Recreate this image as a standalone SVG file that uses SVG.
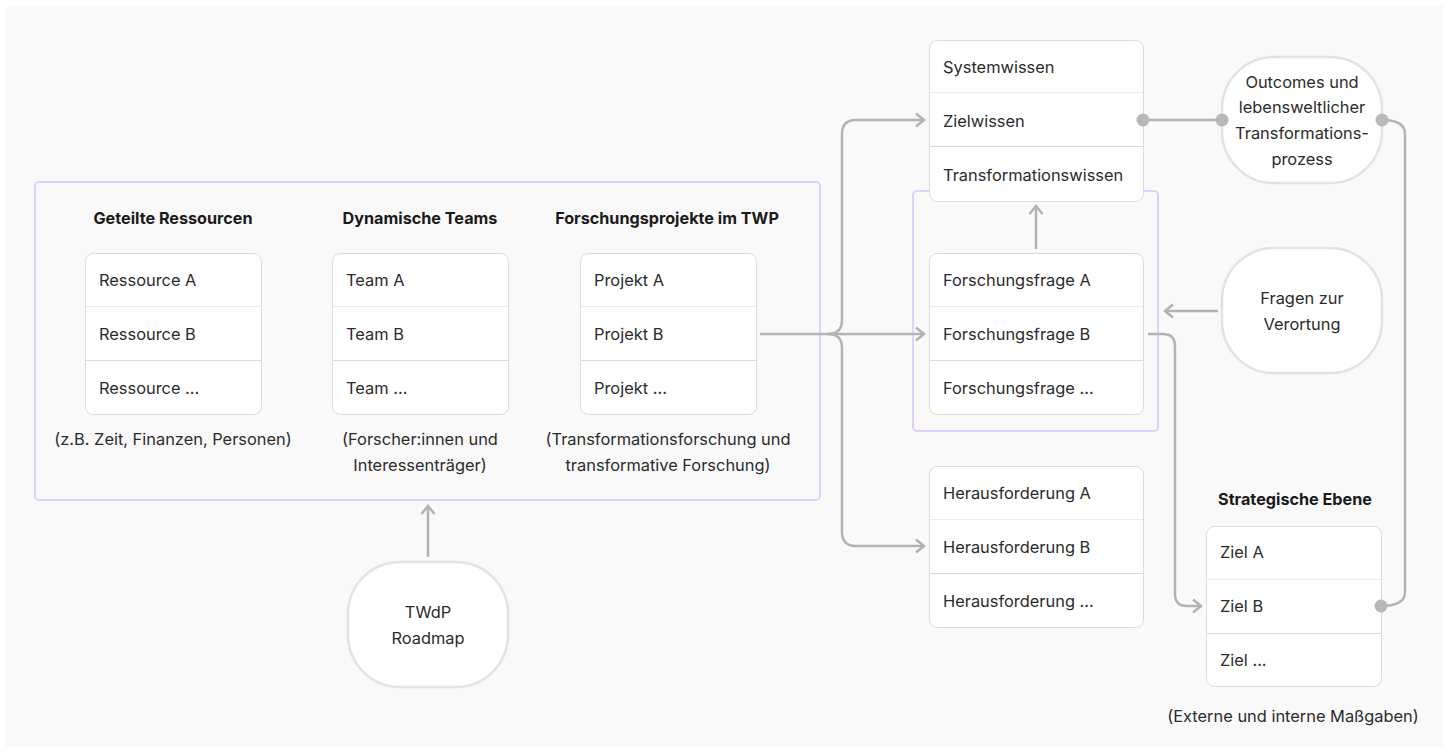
<svg xmlns="http://www.w3.org/2000/svg" width="1449" height="753" viewBox="0 0 1449 753">
<defs>
<style>
.t{font-family:Inter,"Noto Sans","Liberation Sans",sans-serif;font-size:16.4px;fill:#2b2b2b}
.h{font-family:Inter,"Noto Sans","Liberation Sans",sans-serif;font-size:16.2px;font-weight:700;fill:#1a1a1a}
.c{text-anchor:middle}
.box{fill:#fff;stroke:#dcdcdc;stroke-width:1}
.rowb{fill:#fff;stroke:#dcdcdc;stroke-width:1}
.sep{stroke:#ececec;stroke-width:1}
.grp{fill:none;stroke:#e0d0fb;stroke-width:2}
.pill{fill:#fff;stroke:#e3e3e3;stroke-width:2.5}
.con{fill:none;stroke:#b3b3b3;stroke-width:2.5}
.dot{fill:#b8b8b8}
</style>
<marker id="arr" viewBox="0 0 12 16" refX="10" refY="8" markerWidth="12" markerHeight="16" orient="auto" markerUnits="userSpaceOnUse">
<path d="M2,1.5 L10,8 L2,14.5" fill="none" stroke="#b3b3b3" stroke-width="2.5"/>
</marker>
</defs>
<rect x="0" y="0" width="1449" height="753" fill="#fff"/>
<rect x="6" y="6" width="1437" height="741" fill="#f9f9f9"/>

<g id="group-main">
<rect class="grp" x="35" y="182" width="785" height="318" rx="4"/>
</g>
<g id="group-fragen">
<rect class="grp" x="913" y="191" width="245" height="240" rx="4"/>
</g>

<g id="ressourcen">
<text class="h c" x="173" y="224">Geteilte Ressourcen</text>
<rect class="box" x="85.5" y="253.5" width="176" height="161" rx="8"/>
<rect class="rowb" x="85.5" y="306.5" width="176" height="54"/>
<line class="sep" x1="86" y1="306.5" x2="261" y2="306.5"/>
<text class="t" x="99" y="286">Ressource A</text>
<text class="t" x="99" y="340">Ressource B</text>
<text class="t" x="99" y="394">Ressource ...</text>
<text class="t c" x="173" y="445">(z.B. Zeit, Finanzen, Personen)</text>
</g>

<g id="teams">
<text class="h c" x="420" y="224">Dynamische Teams</text>
<rect class="box" x="332.5" y="253.5" width="176" height="161" rx="8"/>
<rect class="rowb" x="332.5" y="306.5" width="176" height="54"/>
<line class="sep" x1="333" y1="306.5" x2="508" y2="306.5"/>
<text class="t" x="346" y="286">Team A</text>
<text class="t" x="346" y="340">Team B</text>
<text class="t" x="346" y="394">Team ...</text>
<text class="t c" x="420" y="445">(Forscher:innen und</text>
<text class="t c" x="420" y="471">Interessenträger)</text>
</g>

<g id="projekte">
<text class="h c" x="667" y="224">Forschungsprojekte im TWP</text>
<rect class="box" x="580.5" y="253.5" width="176" height="161" rx="8"/>
<rect class="rowb" x="580.5" y="306.5" width="176" height="54"/>
<line class="sep" x1="581" y1="306.5" x2="756" y2="306.5"/>
<text class="t" x="594" y="286">Projekt A</text>
<text class="t" x="594" y="340">Projekt B</text>
<text class="t" x="594" y="394">Projekt ...</text>
<text class="t c" x="668" y="445">(Transformationsforschung und</text>
<text class="t c" x="668" y="471">transformative Forschung)</text>
</g>

<g id="wissen">
<rect class="box" x="929.5" y="40.5" width="214" height="161" rx="8"/>
<rect class="rowb" x="929.5" y="92.5" width="214" height="54"/>
<line class="sep" x1="930" y1="92.5" x2="1143" y2="92.5"/>
<text class="t" x="943" y="73">Systemwissen</text>
<text class="t" x="943" y="127">Zielwissen</text>
<text class="t" x="943" y="181">Transformationswissen</text>
</g>

<g id="forschungsfragen">
<rect class="box" x="929.5" y="253.5" width="214" height="161" rx="8"/>
<rect class="rowb" x="929.5" y="306.5" width="214" height="54"/>
<line class="sep" x1="930" y1="306.5" x2="1143" y2="306.5"/>
<text class="t" x="943" y="286">Forschungsfrage A</text>
<text class="t" x="943" y="340">Forschungsfrage B</text>
<text class="t" x="943" y="394">Forschungsfrage ...</text>
</g>

<g id="herausforderungen">
<rect class="box" x="929.5" y="466.5" width="214" height="161" rx="8"/>
<rect class="rowb" x="929.5" y="519.5" width="214" height="54"/>
<line class="sep" x1="930" y1="519.5" x2="1143" y2="519.5"/>
<text class="t" x="943" y="499">Herausforderung A</text>
<text class="t" x="943" y="553">Herausforderung B</text>
<text class="t" x="943" y="607">Herausforderung ...</text>
</g>

<g id="outcomes">
<rect class="pill" x="1222" y="57" width="160" height="126" rx="52"/>
<text class="t c" x="1302" y="88">Outcomes und</text>
<text class="t c" x="1302" y="113">lebensweltlicher</text>
<text class="t c" x="1302" y="139">Transformations-</text>
<text class="t c" x="1302" y="165">prozess</text>
</g>

<g id="verortung">
<rect class="pill" x="1222" y="248" width="160" height="125" rx="52"/>
<text class="t c" x="1302" y="304">Fragen zur</text>
<text class="t c" x="1302" y="330">Verortung</text>
</g>

<g id="strategie">
<text class="h c" x="1295" y="505">Strategische Ebene</text>
<rect class="box" x="1206.5" y="526.5" width="175" height="160" rx="8"/>
<line class="sep" x1="1207" y1="579.5" x2="1381" y2="579.5"/>
<line x1="1207" y1="633.5" x2="1381" y2="633.5" stroke="#dcdcdc" stroke-width="1"/>
<text class="t" x="1220" y="558">Ziel A</text>
<text class="t" x="1220" y="612">Ziel B</text>
<text class="t" x="1220" y="666">Ziel ...</text>
<text class="t c" x="1293" y="722">(Externe und interne Maßgaben)</text>
</g>

<g id="roadmap">
<rect class="pill" x="348" y="562" width="160" height="125" rx="52"/>
<text class="t c" x="428" y="618">TWdP</text>
<text class="t c" x="428" y="644">Roadmap</text>
</g>

<g id="connectors">
<path class="con" d="M760 334 H924" marker-end="url(#arr)"/>
<path class="con" d="M828 334 Q842 334 842 320 V134 Q842 120 856 120 H924" marker-end="url(#arr)"/>
<path class="con" d="M828 334 Q842 334 842 348 V532 Q842 546 856 546 H924" marker-end="url(#arr)"/>
<path class="con" d="M1036 249 V206" marker-end="url(#arr)"/>
<path class="con" d="M1218 311 H1165" marker-end="url(#arr)"/>
<path class="con" d="M428 557 V506" marker-end="url(#arr)"/>
<path class="con" d="M1148 334 H1163 Q1175 334 1175 346 V594 Q1175 606 1187 606 H1201" marker-end="url(#arr)"/>
<path class="con" d="M1143 120 H1222"/>
<circle class="dot" cx="1143" cy="120" r="6.5"/>
<circle class="dot" cx="1222" cy="120" r="6.5"/>
<path class="con" d="M1382 120 Q1405 120 1405 134 V592 Q1405 606 1381 606"/>
<circle class="dot" cx="1382" cy="120" r="6.5"/>
<circle class="dot" cx="1381" cy="606" r="6.5"/>
</g>
</svg>
